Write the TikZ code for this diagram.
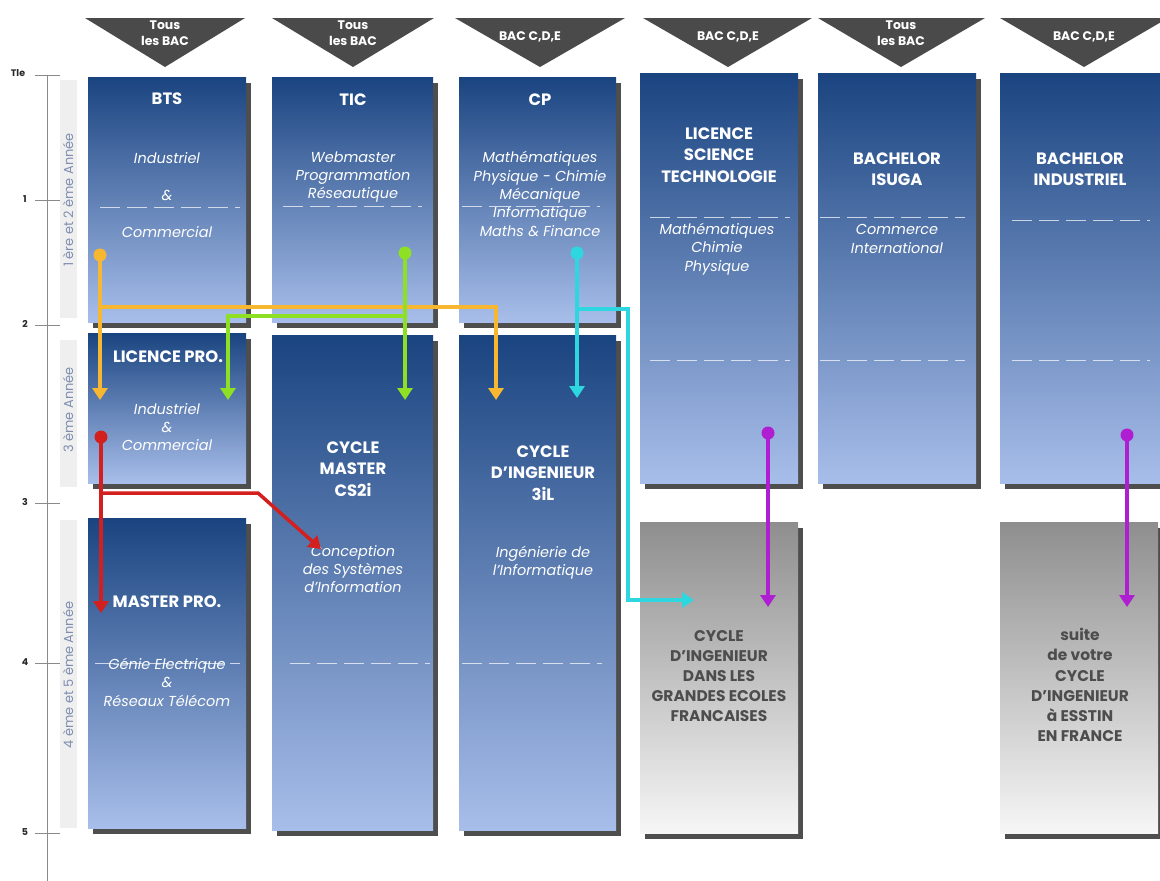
\documentclass[tikz,border=0pt]{standalone}
\usepackage{fontspec}
\setmainfont{Poppins}
\usetikzlibrary{arrows.meta,shadows}
\definecolor{boxtop}{HTML}{1A4480}
\definecolor{boxbot}{HTML}{A8BEEA}
\definecolor{greytop}{HTML}{8E8E8E}
\definecolor{greybot}{HTML}{F6F6F6}
\definecolor{shadowc}{HTML}{4E4E4E}
\definecolor{hdrc}{HTML}{4A4A4A}
\definecolor{axisc}{HTML}{8A8A8A}
\definecolor{vlab}{HTML}{7F8EB0}
\definecolor{stripc}{HTML}{EFEFEF}
\definecolor{greytext}{HTML}{4D4D4D}
\definecolor{cyel}{HTML}{F7B731}
\definecolor{cgrn}{HTML}{8EE024}
\definecolor{ccyn}{HTML}{2ED6E0}
\definecolor{cred}{HTML}{D41F1F}
\definecolor{cmag}{HTML}{B01ED2}
\newcommand\mybox[6]{\node[#6, anchor=north west, minimum width={(#4-#2)*1bp}, minimum height={(#5-#3)*1bp}] (#1) at (#2,#3) {};}
\begin{document}
\begin{tikzpicture}[x=1bp,y=-1bp,
  basebox/.style={inner sep=0pt, outer sep=0pt, draw=none,
     drop shadow={shadow xshift=5bp, shadow yshift=-6bp, fill=shadowc, opacity=1}},
  bluebox/.style={basebox, top color=boxtop, bottom color=boxbot},
  greybox/.style={basebox, top color=greytop, bottom color=greybot},
  hdr/.style={fill=hdrc},
  hdrtext/.style={text=white, font=\bfseries\fontsize{12.5}{16}\selectfont, align=center, inner sep=0pt},
  ttl/.style={text=white, font=\bfseries\fontsize{16.5}{21.5}\selectfont, align=center, inner sep=0pt},
  sub/.style={text=white, font=\itshape\fontsize{14.5}{18.5}\selectfont, align=center, inner sep=0pt},
  greyttl/.style={text=greytext, font=\bfseries\fontsize{15.5}{20.2}\selectfont, align=center, inner sep=0pt},
  sep/.style={white, opacity=0.7, line width=0.8bp, dash pattern=on 20bp off 7bp},
  axlab/.style={font=\bfseries\fontsize{9.5}{10}\selectfont, text=black!85, inner sep=0pt},
  vtext/.style={rotate=90, text=vlab, font=\fontsize{13}{14}\selectfont, inner sep=0pt},
  conn/.style={line width=3.5bp, -{Triangle[width=15bp,length=12bp]}},
  dot/.style={circle, inner sep=0pt, minimum size=13bp}
]
\useasboundingbox (0,0) rectangle (1160,881);
\fill[white] (0,0) rectangle (1160,881);

% ---- axis
\fill[stripc] (60,80) rectangle (77,318);
\fill[stripc] (60,340) rectangle (77,487);
\fill[stripc] (60,520) rectangle (77,828);
\draw[axisc, line width=1bp] (47,75) -- (47,881);
\foreach \yy in {75,200,325,503,663,833} \draw[axisc, line width=1bp] (35,\yy) -- (60,\yy);
\node[axlab] (tle) at (18,73) {Tle};
\node[axlab] (a1) at (25,199) {1};
\node[axlab] (a2) at (25,324) {2};
\node[axlab] (a3) at (25,502) {3};
\node[axlab] (a4) at (25,662) {4};
\node[axlab] (a5) at (25,832) {5};
\node[vtext] (v1) at (68,200) {1 ère et 2 ème Année};
\node[vtext] (v2) at (68,410) {3 ème Année};
\node[vtext] (v3) at (68,675) {4 ème et 5 ème Année};

% ---- header triangles
\fill[hdr] (85,18) -- (245,18) -- (165,67) -- cycle;
\fill[hdr] (272,18) -- (434,18) -- (353,67) -- cycle;
\fill[hdr] (455,18) -- (625,18) -- (540,67) -- cycle;
\fill[hdr] (643,18) -- (812,18) -- (728,67) -- cycle;
\fill[hdr] (818,18) -- (985,18) -- (901,67) -- cycle;
\fill[hdr] (1000,18) -- (1168,18) -- (1084,67) -- cycle;
\node[hdrtext] (h1) at (165,33) {Tous\\les BAC};
\node[hdrtext] (h2) at (353,33) {Tous\\les BAC};
\node[hdrtext] (h3) at (530,37) {BAC C,D,E};
\node[hdrtext] (h4) at (728,37) {BAC C,D,E};
\node[hdrtext] (h5) at (901,33) {Tous\\les BAC};
\node[hdrtext] (h6) at (1084,37) {BAC C,D,E};

% ---- boxes
\mybox{bts}{88}{77}{246}{322}{bluebox}
\mybox{lpro}{88}{333}{246}{483}{bluebox}
\mybox{mpro}{88}{518}{246}{828}{bluebox}
\mybox{tic}{272}{77}{433}{322}{bluebox}
\mybox{cs2i}{272}{335}{433}{830}{bluebox}
\mybox{cp}{459}{77}{616}{322}{bluebox}
\mybox{cing}{459}{335}{616}{830}{bluebox}
\mybox{lst}{640}{73}{798}{483}{bluebox}
\mybox{isuga}{818}{73}{976}{483}{bluebox}
\mybox{bind}{1000}{73}{1160}{483}{bluebox}
\mybox{gr1}{640}{522}{798}{833}{greybox}
\mybox{gr2}{1000}{522}{1158}{833}{greybox}

% ---- separators
\draw[sep] (100,207) -- (240,207);
\draw[sep] (283,206) -- (422,206);
\draw[sep] (462,206) -- (600,206);
\draw[sep] (650,217) -- (790,217);
\draw[sep] (650,360) -- (790,360);
\draw[sep] (820,217) -- (965,217);
\draw[sep] (820,360) -- (965,360);
\draw[sep] (1012,220) -- (1150,220);
\draw[sep] (1012,360) -- (1150,360);
\draw[sep] (290,663) -- (430,663);
\draw[sep] (462,663) -- (602,663);
\draw[sep] (95,663) -- (240,663);

% ---- texts
\node[ttl] (btsT) at (167,99) {BTS};
\node[sub] (btsS1) at (167,158) {Industriel};
\node[sub] (btsS2) at (167,195) {\&};
\node[sub] (btsS3) at (167,232) {Commercial};
\node[ttl] (ticT) at (353,100) {TIC};
\node[sub] (ticS) at (353,177) {Webmaster\\Programmation\\Réseautique};
\node[ttl] (cpT) at (540,100) {CP};
\node[sub] (cpS) at (540,194) {Mathématiques\\Physique - Chimie\\Mécanique\\Informatique\\Maths \& Finance};
\node[ttl] (lstT) at (719,155) {LICENCE\\SCIENCE\\TECHNOLOGIE};
\node[sub] (lstS) at (717,249) {Mathématiques\\Chimie\\Physique};
\node[ttl] (isT) at (897,169) {BACHELOR\\ISUGA};
\node[sub] (isS) at (897,239) {Commerce\\International};
\node[ttl] (biT) at (1080,169) {BACHELOR\\INDUSTRIEL};
\node[ttl] (lpT) at (168,357) {LICENCE PRO.};
\node[sub] (lpS) at (167,427) {Industriel\\\&\\Commercial};
\node[ttl] (csT) at (353,469) {CYCLE\\MASTER\\CS2i};
\node[sub] (csS) at (353,569) {Conception\\des Systèmes\\d'Information};
\node[ttl] (ciT) at (543,473) {CYCLE\\D'INGENIEUR\\3iL};
\node[sub] (ciS) at (543,563) {Ingénierie de\\l'Informatique};
\node[ttl] (mpT) at (167,602) {MASTER PRO.};
\node[sub] (mpS) at (167,682) {Génie Electrique\\\&\\Réseaux Télécom};
\node[greyttl] (g1T) at (719,676) {CYCLE\\D'INGENIEUR\\DANS LES\\GRANDES ECOLES\\FRANCAISES};
\node[greyttl] (g2T) at (1080,685) {suite\\de votre\\CYCLE\\D'INGENIEUR\\à ESSTIN\\EN FRANCE};

% ---- connectors
\coordinate (ys) at (100,255);
\coordinate (yj) at (100,307);
\coordinate (ye1) at (100,400);
\coordinate (ye2) at (496,400);
\coordinate (gs) at (405,253);
\coordinate (gj) at (405,316);
\coordinate (ge1) at (405,400);
\coordinate (ge2) at (228,400);
\coordinate (cs) at (577,253);
\coordinate (cj) at (577,309);
\coordinate (ce1) at (577,398);
\coordinate (ck) at (628,600);
\coordinate (ce2) at (694,600);
\coordinate (rs) at (101,437);
\coordinate (rj) at (101,493);
\coordinate (rk) at (258,493);
\coordinate (re1) at (101,613);
\coordinate (re2) at (321,549);
\coordinate (ms1) at (768,433);
\coordinate (me1) at (768,607);
\coordinate (ms2) at (1127,435);
\coordinate (me2) at (1127,607);

\draw[conn, cyel] (ys) -- (ye1);
\draw[conn, cyel] (yj) -| (ye2);
\node[dot, fill=cyel] (ysd) at (ys) {};
\draw[conn, cgrn] (gs) -- (ge1);
\draw[conn, cgrn] (gj) -| (ge2);
\node[dot, fill=cgrn] (gsd) at (gs) {};
\draw[conn, ccyn] (cs) -- (ce1);
\draw[conn, ccyn] (cj) -| (ck) -- (ce2);
\node[dot, fill=ccyn] (csd) at (cs) {};
\draw[conn, cred] (rs) -- (re1);
\draw[conn, cred] (rj) -- (rk) -- (re2);
\node[dot, fill=cred] (rsd) at (rs) {};
\draw[conn, cmag] (ms1) -- (me1);
\node[dot, fill=cmag] (msd1) at (ms1) {};
\draw[conn, cmag] (ms2) -- (me2);
\node[dot, fill=cmag] (msd2) at (ms2) {};
\end{tikzpicture}
\end{document}
